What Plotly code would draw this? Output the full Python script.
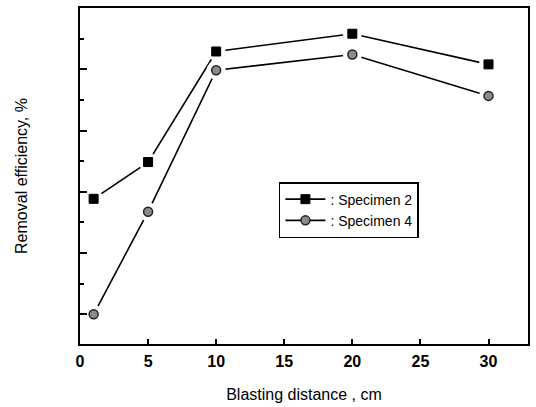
import plotly.graph_objects as go

# Blasting distance (cm) and removal efficiency (%) for each specimen
distance = [1, 5, 10, 20, 30]
specimen2 = [57.7, 69.7, 105.8, 111.6, 101.6]
specimen4 = [20.0, 53.5, 99.7, 104.8, 91.3]

x_ticks = [0, 5, 10, 15, 20, 25, 30]
y_ticks = [20, 40, 60, 80, 100]

FONT = "Liberation Sans, Arial, sans-serif"

series = [
    (": Specimen 2", specimen2, dict(symbol="square", size=9, color="black",
                                     line=dict(color="black", width=1))),
    (": Specimen 4", specimen4, dict(symbol="circle", size=9, color="#8a8a8a",
                                     line=dict(color="#222222", width=1.5))),
]

fig = go.Figure()

# connecting lines (with legend entries)
for name, vals, mk in series:
    fig.add_trace(go.Scatter(
        x=distance, y=vals, mode="lines+markers", name=name,
        line=dict(color="black", width=1.6), marker=mk,
    ))

# white halos leave a small gap between each line and its markers
for name, vals, mk in series:
    fig.add_trace(go.Scatter(
        x=distance, y=vals, mode="markers", showlegend=False, hoverinfo="skip",
        marker=dict(symbol="circle", size=19, color="white",
                    line=dict(width=0)),
    ))

# markers drawn on top
for name, vals, mk in series:
    fig.add_trace(go.Scatter(
        x=distance, y=vals, mode="markers", showlegend=False, marker=mk,
    ))

fig.update_layout(
    width=536, height=407,
    margin=dict(l=80, r=6, t=6, b=61),
    paper_bgcolor="white", plot_bgcolor="white",
    font=dict(family=FONT, color="black"),
    showlegend=True,
    legend=dict(
        x=0.444, y=0.482, xanchor="left", yanchor="top",
        bgcolor="white", bordercolor="black", borderwidth=1.5,
        font=dict(size=14, family=FONT, color="black"),
        itemwidth=40, tracegroupgap=2,
    ),
)

fig.update_xaxes(
    range=[0, 32.9], tickvals=x_ticks, ticktext=[str(v) for v in x_ticks],
    ticks="inside", ticklen=5, tickwidth=1.5, tickcolor="black",
    showline=True, linecolor="black", linewidth=2, mirror=True,
    showgrid=False, zeroline=False,
    tickfont=dict(size=16, family=FONT, weight="bold"),
    ticklabelstandoff=2,
    title=dict(text="Blasting distance , cm", standoff=20,
               font=dict(size=16, family=FONT)),
)

fig.update_yaxes(
    range=[10.3, 120], tickvals=y_ticks, showticklabels=False,
    ticks="inside", ticklen=7, tickwidth=1.5, tickcolor="black",
    minor=dict(dtick=10, tick0=0, ticks="inside", ticklen=4,
               tickwidth=1.5, tickcolor="black", showgrid=False),
    showline=True, linecolor="black", linewidth=2, mirror=True,
    showgrid=False, zeroline=False,
    title=dict(text="Removal efficiency, %", standoff=46,
               font=dict(size=16, family=FONT)),
)

fig.write_html("out.html")
